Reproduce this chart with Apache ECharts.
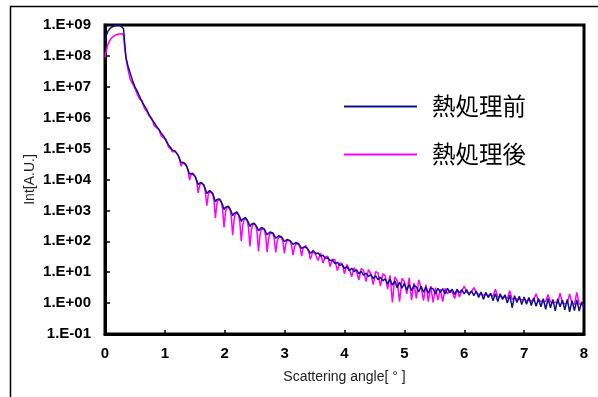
<!DOCTYPE html>
<html><head><meta charset="utf-8">
<script src="https://cdn.jsdelivr.net/npm/echarts@6/dist/echarts.min.js"></script>
<style>html,body{margin:0;padding:0;background:#fff}#c{width:598px;height:397px}</style>
</head><body><div id="c"></div>
<script>
// Scattering angle (deg)
const angle = [
0,0.02,0.05,0.08,0.11,0.14,0.17,0.2,0.23,0.26,0.29,0.31,0.33,0.35,
0.38,0.42,0.46,0.5,0.54,0.58,0.62,0.66,0.7,0.74,0.78,0.82,0.86,0.9,0.94,0.98,1.02,1.06,1.1,
1.124,1.148,1.172,1.196,1.22,1.244,1.268,1.292,1.316,1.34,
1.364,1.388,1.412,1.436,1.46,1.484,1.508,1.532,1.556,1.58,
1.604,1.628,1.652,1.676,1.7,1.724,1.748,1.772,1.796,1.82,
1.844,1.868,1.892,1.916,1.94,1.964,1.988,2.012,2.036,2.06,
2.084,2.108,2.132,2.156,2.18,2.204,2.228,2.252,2.276,2.3,
2.324,2.348,2.372,2.396,2.42,2.444,2.468,2.492,2.516,2.54,
2.564,2.588,2.612,2.636,2.66,2.684,2.708,2.732,2.756,2.78,
2.804,2.828,2.852,2.876,2.9,2.924,2.948,2.972,2.996,3.02,
3.044,3.068,3.092,3.116,3.14,3.164,3.188,3.212,3.236,3.26,
3.284,3.308,3.332,3.356,3.38,3.404,3.428,3.452,3.476,3.5,
3.52,3.56,3.6,3.64,3.68,3.72,3.76,3.8,3.84,3.88,
3.92,3.96,4,4.04,4.08,4.12,4.16,4.2,4.24,4.28,
4.32,4.36,4.4,4.44,4.48,4.52,4.56,4.6,4.64,4.68,
4.72,4.76,4.8,4.84,4.88,4.92,4.96,5,5.04,5.08,
5.12,5.16,5.2,5.24,5.28,5.32,5.36,5.4,5.44,5.48,
5.52,5.56,5.6,5.64,5.68,5.72,5.76,5.8,5.84,5.88,
5.92,5.96,6,6.04,6.08,6.12,6.16,6.2,6.24,6.28,
6.32,6.36,6.4,6.44,6.48,6.52,6.56,6.6,6.64,6.68,
6.72,6.76,6.8,6.84,6.88,6.92,6.96,7,7.04,7.08,
7.12,7.16,7.2,7.24,7.28,7.32,7.36,7.4,7.44,7.48,
7.52,7.56,7.6,7.64,7.68,7.72,7.76,7.8,7.84,7.88,
7.92,7.96,8
];
// Intensity before heat treatment, read as decade exponent (log10 of A.U.)
const beforeExp = [
8.50,8.65,8.80,8.88,8.93,8.96,8.98,8.99,8.99,8.98,8.96,8.88,8.40,7.95,
7.70,7.45,7.20,7.00,6.85,6.68,6.50,6.38,6.25,6.08,5.95,5.85,5.72,5.62,5.50,5.40,5.25,5.12,5.02,
4.95,4.94,4.92,4.86,4.79,4.68,4.56,4.56,4.55,4.51,
4.43,4.31,4.18,4.20,4.20,4.16,4.09,3.97,3.84,3.88,
3.91,3.88,3.82,3.69,3.55,3.60,3.64,3.62,3.56,3.43,
3.28,3.35,3.40,3.37,3.31,3.18,3.03,3.10,3.16,3.14,
3.09,2.97,2.83,2.90,2.96,2.95,2.89,2.78,2.65,2.72,
2.77,2.77,2.72,2.61,2.48,2.55,2.60,2.59,2.55,2.45,
2.34,2.40,2.45,2.44,2.40,2.31,2.21,2.26,2.30,2.30,
2.27,2.19,2.10,2.14,2.18,2.17,2.14,2.07,1.99,2.03,
2.06,2.05,2.02,1.96,1.90,1.93,1.96,1.94,1.92,1.84,
1.77,1.79,1.82,1.80,1.77,1.70,1.62,1.66,1.68,1.65,
1.60,1.62,1.52,1.55,1.44,1.47,1.38,1.39,1.28,1.32,
1.22,1.25,1.12,1.18,1.05,1.13,1.02,1.08,0.95,1.03,
0.90,0.97,0.86,0.92,0.80,0.88,0.76,0.84,0.72,0.79,
0.62,0.78,0.58,0.72,0.50,0.68,0.48,0.64,0.42,0.60,
0.40,0.58,0.52,0.36,0.55,0.35,0.52,0.32,0.50,0.46,
0.30,0.48,0.35,0.47,0.30,0.48,0.34,0.45,0.28,0.44,
0.33,0.43,0.30,0.44,0.26,0.40,0.24,0.39,0.18,0.36,
0.12,0.35,0.18,0.32,0.08,0.30,0.05,0.30,0.12,0.27,
0.00,0.26,-0.15,0.24,0.02,0.22,-0.05,0.20,-0.04,0.18,
-0.08,0.17,-0.10,0.15,-0.12,0.14,-0.20,0.15,-0.15,0.12,
-0.25,0.14,-0.12,0.10,-0.22,0.12,-0.28,0.08,-0.24,0.10,
-0.26,0.04,-0.15
];
// Intensity after heat treatment, read as decade exponent (log10 of A.U.)
const afterExp = [
7.95,8.15,8.38,8.50,8.58,8.63,8.67,8.70,8.71,8.72,8.72,8.65,8.25,7.92,
7.60,7.25,7.10,6.95,6.75,6.60,6.55,6.30,6.20,6.05,5.98,5.75,5.68,5.62,5.40,5.35,5.30,5.05,4.98,
4.90,4.94,4.91,4.86,4.79,4.66,4.43,4.53,4.53,4.51,
4.43,4.28,3.98,4.16,4.19,4.16,4.09,3.92,3.57,3.81,
3.89,3.88,3.81,3.61,3.15,3.49,3.61,3.62,3.54,3.32,
2.75,3.20,3.36,3.37,3.29,3.05,2.45,2.93,3.11,3.14,
3.07,2.82,2.20,2.71,2.91,2.95,2.87,2.62,2.00,2.52,
2.72,2.77,2.70,2.45,1.83,2.35,2.55,2.59,2.53,2.28,
1.67,2.19,2.40,2.44,2.38,2.17,1.65,2.09,2.26,2.30,
2.25,2.08,1.64,2.00,2.14,2.17,2.12,1.98,1.61,1.91,
2.03,2.05,2.01,1.87,1.55,1.82,1.92,1.94,1.90,1.78,
1.52,1.78,1.79,1.86,1.75,1.66,1.42,1.55,1.72,1.65,
1.55,1.38,1.62,1.30,1.50,1.52,1.18,1.42,1.40,1.05,
1.30,1.28,0.95,1.25,1.10,0.85,1.15,1.02,0.75,1.12,
1.05,0.70,1.08,0.95,0.60,1.02,0.98,0.55,0.95,0.88,
0.45,0.90,0.02,0.85,0.72,0.05,0.80,0.70,0.30,0.82,
0.10,0.65,0.15,0.75,0.50,0.08,0.60,0.05,0.55,0.02,
0.50,0.10,0.45,0.05,0.48,0.30,0.42,0.35,0.15,0.45,
0.20,0.40,0.55,0.35,0.33,0.36,0.50,0.34,0.28,0.30,
0.25,0.28,0.24,0.27,0.22,0.45,0.20,0.22,0.19,0.20,
0.15,0.40,0.12,0.16,0.12,0.14,0.10,0.12,0.08,0.10,
0.06,0.09,0.30,0.05,0.07,0.04,0.06,0.28,0.04,0.01,
0.03,0.00,0.32,0.00,-0.02,0.00,0.30,-0.01,-0.04,0.35,
-0.03,-0.05,-0.06
];
const seriesNames = ['熱処理前', '熱処理後'];
const xTicks = [0, 1, 2, 3, 4, 5, 6, 7, 8];
const yTickExponents = [-1, 0, 1, 2, 3, 4, 5, 6, 7, 8, 9];

const before = angle.map((x, i) => [x, Math.pow(10, beforeExp[i])]);
const after = angle.map((x, i) => [x, Math.pow(10, afterExp[i])]);

function expLabel(v) {
  const e = Math.round(Math.log10(v));
  const s = e < 0 ? '-' : '+';
  const a = Math.abs(e);
  return '1.E' + s + (a < 10 ? '0' : '') + a;
}

const chart = echarts.init(document.getElementById('c'), null, {renderer: 'canvas'});
const tickFont = {fontFamily: 'Liberation Sans, Arial, sans-serif', fontWeight: 'bold', fontSize: 15, color: '#000'};
chart.setOption({
  animation: false,
  backgroundColor: '#fff',
  graphic: [{
    type: 'rect', left: 8, top: 4, z: 0,
    shape: {width: 700, height: 500},
    style: {fill: 'none', stroke: '#000', lineWidth: 1.5}
  }],
  grid: {left: 105, right: 14, top: 25, bottom: 63, show: true, borderColor: '#000', borderWidth: 3, backgroundColor: 'transparent'},
  legend: {
    data: seriesNames,
    orient: 'vertical',
    left: 339, top: 89,
    icon: 'rect',
    itemWidth: 73, itemHeight: 2,
    itemGap: 23,
    textStyle: {fontFamily: 'Noto Sans CJK JP', fontSize: 23.5, color: '#000', lineHeight: 25, padding: [0, 0, 0, 10]}
  },
  xAxis: {
    type: 'value', min: xTicks[0], max: xTicks[xTicks.length - 1], interval: 1,
    name: 'Scattering angle[ ° ]', nameLocation: 'middle', nameGap: 36,
    nameTextStyle: {fontFamily: 'Liberation Sans, Arial, sans-serif', fontSize: 14, color: '#222'},
    axisLine: {show: true, lineStyle: {color: '#000', width: 3}},
    axisTick: {show: true, inside: true, length: 4, lineStyle: {color: '#000', width: 1.5}},
    axisLabel: Object.assign({margin: 12}, tickFont),
    splitLine: {show: false}
  },
  yAxis: {
    type: 'log', logBase: 10,
    min: Math.pow(10, yTickExponents[0]), max: Math.pow(10, yTickExponents[yTickExponents.length - 1]),
    interval: 1, splitNumber: 10,
    name: 'Int[A.U.]', nameLocation: 'middle', nameGap: 68, nameMoveOverlap: false,
    nameTextStyle: {fontFamily: 'Liberation Sans, Arial, sans-serif', fontSize: 14, color: '#222'},
    axisLine: {show: true, lineStyle: {color: '#000', width: 3}},
    axisTick: {show: true, inside: true, length: 5, lineStyle: {color: '#000', width: 1.5}},
    axisLabel: Object.assign({margin: 14, formatter: expLabel}, tickFont),
    splitLine: {show: false}
  },
  series: [
    {name: seriesNames[1], type: 'line', data: after, symbol: 'none', color: '#ff00ff',
     lineStyle: {width: 1.5, color: '#ff00ff'}, z: 2},
    {name: seriesNames[0], type: 'line', data: before, symbol: 'none', color: '#10108c',
     lineStyle: {width: 1.5, color: '#10108c'}, z: 3}
  ]
});
</script></body></html>
